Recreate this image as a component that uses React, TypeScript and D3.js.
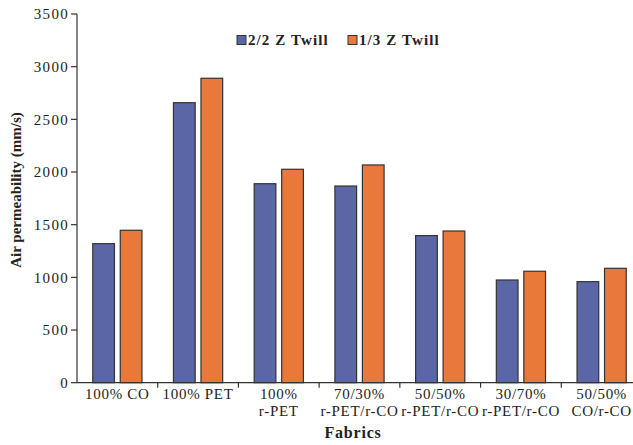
import React from "react";
import * as d3 from "d3";

const categories: string[][] = [
  ["100% CO"],
  ["100% PET"],
  ["100%", "r-PET"],
  ["70/30%", "r-PET/r-CO"],
  ["50/50%", "r-PET/r-CO"],
  ["30/70%", "r-PET/r-CO"],
  ["50/50%", "CO/r-CO"],
];
const seriesNames = ["2/2 Z Twill", "1/3 Z Twill"];
const twill22 = [1320, 2658, 1889, 1867, 1396, 975, 959];
const twill13 = [1447, 2890, 2026, 2067, 1440, 1058, 1086];
const yTicks = [0, 500, 1000, 1500, 2000, 2500, 3000, 3500];
const colors = ["#5A66A6", "#E8793A"];

const W = 633;
const H = 445;
const left = 77;
const right = 642;
const top = 14;
const bottom = 382.7;
const font = "'Liberation Serif', 'Times New Roman', serif";

export default function App() {
  const x = d3
    .scaleBand<number>()
    .domain(d3.range(categories.length))
    .range([left, right])
    .paddingInner(0)
    .paddingOuter(0);
  const y = d3.scaleLinear().domain([0, 3500]).range([bottom, top]);
  const bw = x.bandwidth();
  const barW = 21.7;
  const gap = 5.8;
  const series = [twill22, twill13];

  return (
    <svg
      width={W}
      height={H}
      style={{ position: "absolute", left: 0, top: 0, background: "#fff" }}
      fontFamily={font}
    >
      {/* bars */}
      {series.map((vals, si) =>
        vals.map((v, i) => {
          const cx = (x(i) as number) + bw / 2;
          const bx = si === 0 ? cx - gap / 2 - barW : cx + gap / 2;
          return (
            <rect
              key={`${si}-${i}`}
              x={bx}
              y={y(v)}
              width={barW}
              height={bottom - y(v)}
              fill={colors[si]}
              stroke="#333"
              strokeWidth={1.2}
            />
          );
        })
      )}
      {/* y axis */}
      <line x1={left} x2={left} y1={top} y2={bottom} stroke="#333" strokeWidth={1.2} />
      {yTicks.map((t) => (
        <g key={t}>
          <line x1={left - 6} x2={left} y1={y(t)} y2={y(t)} stroke="#333" strokeWidth={1.2} />
          <text
            x={left - 8}
            y={y(t)}
            dy="0.35em"
            textAnchor="end"
            fontSize={15}
            letterSpacing={1.3}
            fill="#222"
          >
            {t}
          </text>
        </g>
      ))}
      {/* x axis */}
      <line x1={left} x2={right} y1={bottom} y2={bottom} stroke="#333" strokeWidth={1.2} />
      {d3.range(1, categories.length).map((i) => (
        <line
          key={i}
          x1={x(i) as number}
          x2={x(i) as number}
          y1={bottom}
          y2={bottom + 5}
          stroke="#333"
          strokeWidth={1.2}
        />
      ))}
      {categories.map((lines, i) => (
        <text
          key={i}
          x={(x(i) as number) + bw / 2}
          y={399}
          textAnchor="middle"
          fontSize={15}
          letterSpacing={0.7}
          fill="#222"
        >
          {lines.map((l, j) => (
            <tspan key={j} x={(x(i) as number) + bw / 2} dy={j === 0 ? 0 : 16.5}>
              {l}
            </tspan>
          ))}
        </text>
      ))}
      {/* axis titles */}
      <text
        x={353}
        y={438}
        textAnchor="middle"
        fontSize={16}
        letterSpacing={0.8}
        fontWeight="bold"
        fill="#222"
      >
        Fabrics
      </text>
      <text
        transform={`translate(21,190) rotate(-90)`}
        textAnchor="middle"
        fontSize={15}
        fontWeight="bold"
        fill="#222"
      >
        Air permeability (mm/s)
      </text>
      {/* legend */}
      {seriesNames.map((name, si) => {
        const lx = si === 0 ? 237 : 348;
        return (
          <g key={name}>
            <rect x={lx} y={35.5} width={9} height={9} fill={colors[si]} stroke="#333" strokeWidth={1} />
            <text
              x={lx + 11}
              y={40}
              dy="0.35em"
              fontSize={15}
              letterSpacing={1.1}
              fontWeight="bold"
              fill="#222"
            >
              {name}
            </text>
          </g>
        );
      })}
    </svg>
  );
}
